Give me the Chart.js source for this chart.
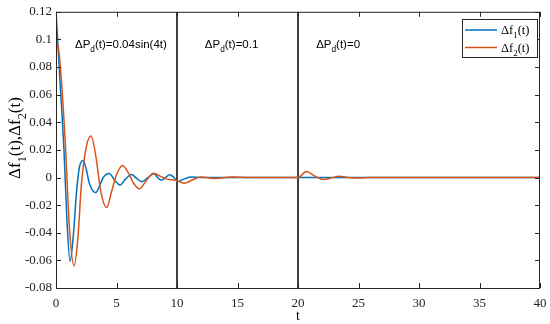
<!DOCTYPE html>
<html>
<head>
<meta charset="utf-8">
<script src="https://cdn.jsdelivr.net/npm/chart.js@4/dist/chart.umd.min.js"></script>
<style>
  html, body { margin: 0; padding: 0; background: #fff; }
  #wrap { width: 550px; height: 324px; position: relative; }
</style>
</head>
<body>
<div id="wrap"><canvas id="c"></canvas></div>
<script>
// values
var t1 = [0, 0.33, 0.66, 0.9, 1.16, 1.45, 1.7, 1.95, 2.23, 2.5, 2.75, 3.28, 3.6, 3.9, 4.4, 4.85, 5.3, 5.75, 6.25, 6.65, 7.1, 7.6, 8.1, 8.4, 8.7, 9.05, 9.4, 9.75, 10.05, 10.6, 11.2, 12, 20, 40];
var f1 = [0.12, 0.07, 0.0195, -0.03, -0.0607, -0.04, -0.01, 0.008, 0.0123, 0.006, -0.004, -0.011, -0.006, 0, 0.003, -0.002, -0.0055, -0.001, 0.0022, -0.0005, -0.003, 0, 0.0028, 0, -0.002, 0, 0.002, 0, -0.0029, -0.001, 0.0003, 0, 0, 0];

var t2 = [0, 0.2, 0.45, 0.8, 1.1, 1.49, 1.8, 2.1, 2.5, 2.9, 3.3, 3.7, 4.19, 4.6, 5.0, 5.5, 6.0, 6.4, 6.9, 7.4, 8.05, 8.6, 9.1, 9.9, 10.6, 11.2, 11.95, 13.2, 14.5, 16, 20, 20.7, 21.4, 22.1, 22.8, 23.4, 24.2, 25, 26, 40];
var f2 = [0.1, 0.094, 0.07, 0.0195, -0.035, -0.064, -0.045, -0.005, 0.022, 0.03, 0.015, -0.01, -0.0217, -0.01, 0.002, 0.0087, 0.003, -0.004, -0.0082, -0.003, 0.0031, 0.001, -0.001, -0.002, -0.0041, -0.002, 0.0004, -0.0008, 0.0003, 0, 0, 0.0043, 0.001, -0.0015, -0.0002, 0.001, 0, -0.0004, 0, 0];

var switchTimes = [10, 20];
var notes = [
  { t: 1.57, v: 0.094, pre: "\u0394P", sub: "d", post: "(t)=0.04sin(4t)" },
  { t: 12.3, v: 0.094, pre: "\u0394P", sub: "d", post: "(t)=0.1" },
  { t: 21.5, v: 0.094, pre: "\u0394P", sub: "d", post: "(t)=0" }
];
var xTicksMin = 0, xTicksMax = 40, xStep = 5;
var yTicksMin = -0.08, yTicksMax = 0.12, yStep = 0.02;

var blue = "#0072BD";
var orange = "#D95319";

function toPts(ts, vs) {
  var out = [];
  for (var i = 0; i < ts.length; i++) out.push({ x: ts[i], y: vs[i] });
  return out;
}

var datasets = [
  { label: "f1", data: toPts(t1, f1), borderColor: blue, borderWidth: 1.5, pointRadius: 0, cubicInterpolationMode: "monotone", order: 2 },
  { label: "f2", data: toPts(t2, f2), borderColor: orange, borderWidth: 1.5, pointRadius: 0, cubicInterpolationMode: "monotone", order: 1 }
];
switchTimes.forEach(function(s) {
  datasets.push({ label: "sw" + s, data: [{ x: s, y: yTicksMin }, { x: s, y: yTicksMax }], borderColor: "#000", borderWidth: 1.5, pointRadius: 0, order: 3 });
});

// draws text with a subscript part
function drawSub(ctx, x, y, parts, size, family) {
  var cx = x;
  parts.forEach(function(p) {
    var s = p.sub ? size * 0.72 : size;
    ctx.font = s + "px " + family;
    ctx.fillText(p.text, cx, y + (p.sub ? size * 0.35 : 0));
    cx += ctx.measureText(p.text).width;
  });
  return cx - x;
}
function widthSub(ctx, parts, size, family) {
  var w = 0;
  parts.forEach(function(p) {
    ctx.font = (p.sub ? size * 0.72 : size) + "px " + family;
    w += ctx.measureText(p.text).width;
  });
  return w;
}

var serif = "'Liberation Serif', 'Times New Roman', serif";
var sans = "'Liberation Sans', Arial, sans-serif";

var decor = {
  id: "decor",
  afterDraw: function(chart) {
    var ctx = chart.ctx, a = chart.chartArea;
    var xs = chart.scales.x, ys = chart.scales.y;
    ctx.save();
    // box
    ctx.strokeStyle = "#262626";
    ctx.lineWidth = 1;
    ctx.strokeRect(a.left + 0.5, a.top + 0.5, a.right - a.left - 1, a.bottom - a.top);
    // inward ticks
    ctx.beginPath();
    xs.ticks.forEach(function(tk) {
      var px = Math.round(xs.getPixelForValue(tk.value)) + 0.5;
      ctx.moveTo(px, a.bottom); ctx.lineTo(px, a.bottom - 5);
      ctx.moveTo(px, a.top); ctx.lineTo(px, a.top + 5);
    });
    ys.ticks.forEach(function(tk) {
      var py = Math.round(ys.getPixelForValue(tk.value)) + 0.5;
      ctx.moveTo(a.left, py); ctx.lineTo(a.left + 5, py);
      ctx.moveTo(a.right, py); ctx.lineTo(a.right - 5, py);
    });
    ctx.stroke();

    // annotations
    ctx.fillStyle = "#000";
    ctx.textAlign = "left";
    ctx.textBaseline = "alphabetic";
    notes.forEach(function(n) {
      drawSub(ctx, xs.getPixelForValue(n.t), ys.getPixelForValue(n.v),
        [{ text: n.pre }, { text: n.sub, sub: true }, { text: n.post }], 11.5, sans);
    });

    // y title
    ctx.save();
    ctx.translate(15, 138);
    ctx.rotate(-Math.PI / 2);
    ctx.fillStyle = "#000";
    var tparts = [{ text: "\u0394f" }, { text: "1", sub: true }, { text: "(t),\u0394f" }, { text: "2", sub: true }, { text: "(t)" }];
    var tw = widthSub(ctx, tparts, 17, serif);
    drawSub(ctx, -tw / 2, 5, tparts, 17, serif);
    ctx.restore();

    // x title
    ctx.font = "14px " + serif;
    ctx.textAlign = "center";
    ctx.fillText("t", (a.left + a.right) / 2, 320);

    // legend
    var lx = 462, ly = 19, lw = 75, lh = 38;
    ctx.fillStyle = "#fff";
    ctx.fillRect(lx, ly, lw, lh);
    ctx.strokeStyle = "#262626";
    ctx.lineWidth = 1;
    ctx.strokeRect(lx + 0.5, ly + 0.5, lw, lh);
    var items = [{ c: blue, n: "1", y: 30 }, { c: orange, n: "2", y: 47.5 }];
    ctx.textAlign = "left";
    items.forEach(function(it) {
      ctx.strokeStyle = it.c;
      ctx.lineWidth = 1.5;
      ctx.beginPath();
      ctx.moveTo(465, it.y); ctx.lineTo(497, it.y);
      ctx.stroke();
      ctx.fillStyle = "#000";
      drawSub(ctx, 501, it.y + 4, [{ text: "\u0394f" }, { text: it.n, sub: true }, { text: "(t)" }], 12.5, serif);
    });
    ctx.restore();
  }
};

new Chart(document.getElementById("c"), {
  type: "line",
  data: { datasets: datasets },
  options: {
    responsive: true,
    maintainAspectRatio: false,
    animation: false,
    layout: { padding: { top: 11, right: 10, left: 0, bottom: 0 } },
    plugins: { legend: { display: false }, tooltip: { enabled: false } },
    scales: {
      x: {
        type: "linear", min: xTicksMin, max: xTicksMax,
        grid: { display: false, tickLength: 8 }, border: { display: false },
        ticks: { stepSize: xStep, color: "#222", font: { family: serif, size: 13 }, padding: 0, maxRotation: 0 },
        afterFit: function(s) { s.height = 36; }
      },
      y: {
        min: yTicksMin, max: yTicksMax,
        grid: { display: false, drawTicks: false }, border: { display: false },
        ticks: {
          stepSize: yStep, color: "#222", font: { family: serif, size: 13 }, padding: 4,
          callback: function(v) { var r = Number(v.toFixed(2)); if (r === 0) r = 0; return String(r); }
        },
        afterFit: function(s) { s.width = 56; }
      }
    }
  },
  plugins: [decor]
});
</script>
</body>
</html>
